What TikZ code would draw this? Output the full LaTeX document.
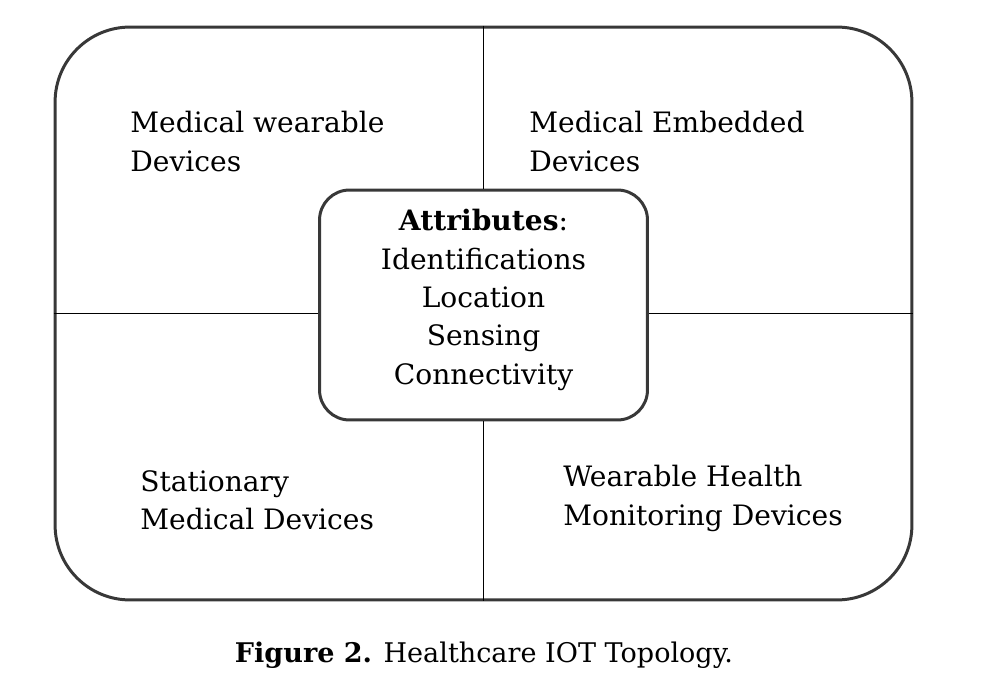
\documentclass[tikz,border=0pt]{standalone}
\usepackage{fontspec}
\setmainfont{DejaVu Serif}
\usetikzlibrary{positioning}

\begin{document}
\begin{tikzpicture}[x=0.02cm,y=-0.02cm,
    lbl/.style={inner sep=0pt, align=left, font=\fontsize{16}{21.8}\selectfont},
    attrbox/.style={draw=black!78, line width=1.7pt, fill=white, rounded corners=0.6cm,
        minimum width=6.56cm, minimum height=4.6cm, align=center, text depth=9.4pt,
        font=\fontsize{16}{21.8}\selectfont}]
        \useasboundingbox (0,0) rectangle (982,678);
        % outer frame
        \node[draw=black!78, line width=1.7pt, rounded corners=1.5cm, inner sep=0pt,
            minimum width=17.14cm, minimum height=11.46cm] (frame) at (483.5,313.5) {};
        \node[attrbox] (attr) at (483.5,305) {\textbf{Attributes}:\\Identifications\\Location\\Sensing\\Connectivity};
        % dividing lines
        \draw[line width=0.7pt] (frame.north) -- (attr.north);
        \draw[line width=0.7pt] (attr.south) -- (frame.south);
        \draw[line width=0.7pt] (frame.west) -- (frame.west -| attr.west);
        \draw[line width=0.7pt] (frame.east -| attr.east) -- (frame.east);
        % quadrant texts
        \node[lbl, anchor=north west] (wear) at (130,111) {Medical wearable\\Devices};
        \node[lbl, anchor=north west] (embed) at (529,111) {Medical Embedded\\Devices};
        \node[lbl, anchor=north west] (stat) at (140,470) {Stationary\\Medical Devices};
        \node[lbl, anchor=north west] (health) at (563,465) {Wearable Health\\Monitoring Devices};
        \node[anchor=base, font=\fontsize{15.4}{20}\selectfont] (cap) at (484,662) {\textbf{Figure 2.} Healthcare IOT Topology.};
\end{tikzpicture}
\end{document}
